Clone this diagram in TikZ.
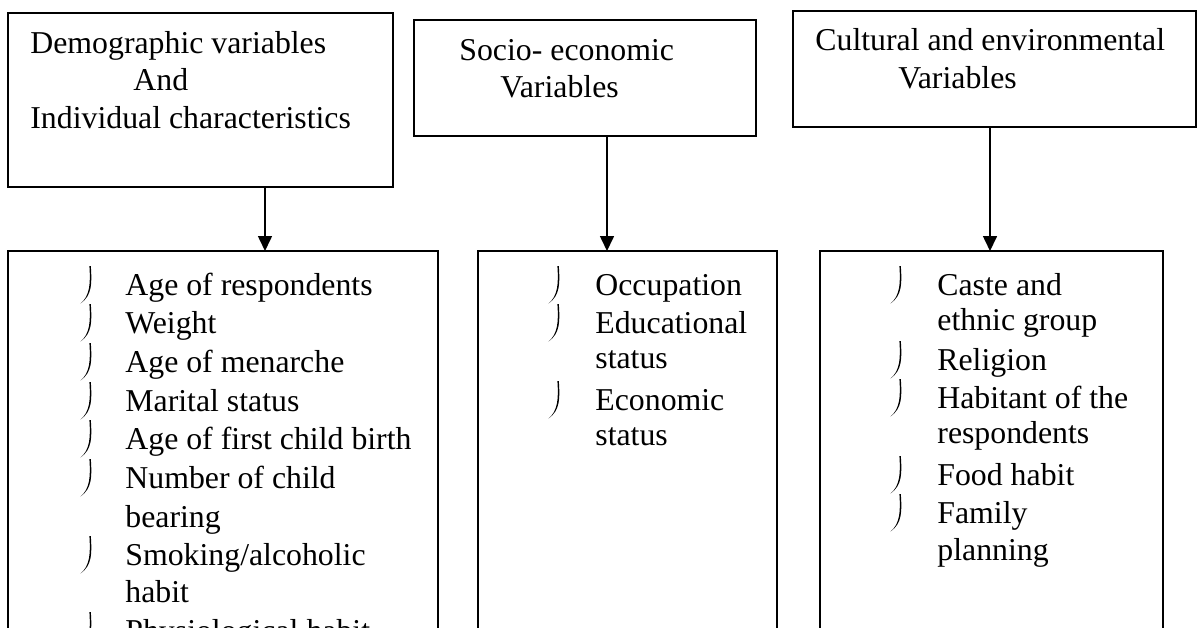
\documentclass[tikz,border=0pt]{standalone}
\usepackage{fontspec}
\setmainfont{Liberation Serif}
\usetikzlibrary{arrows.meta}

\tikzset{
  box/.style={draw, line width=0.9pt, rectangle, inner sep=0pt, outer sep=0pt, anchor=north west},
  txt/.style={anchor=base west, inner sep=0pt, font=\fontsize{15.9}{19}\selectfont},
  arr/.style={line width=0.8pt, -{Triangle[length=7.5pt,width=7pt]}},
  bul/.pic={\fill (0.8,-29) .. controls (1.9,-12) and (2.4,0) .. (-9.5,8.6)
     .. controls (0.2,0.4) and (0.5,-12) .. (-0.6,-29) -- cycle;}
}

\begin{document}
\begin{tikzpicture}[x=0.5pt,y=-0.5pt]
\useasboundingbox (0,0) rectangle (1198,627);
\clip (0,0) rectangle (1198,627);
% upper boxes
\node[box, minimum width=192.5pt, minimum height=87pt] (demo) at (8,13) {};
\node[box, minimum width=171pt, minimum height=58pt] (socio) at (414,20) {};
\node[box, minimum width=201.5pt, minimum height=58pt] (cult) at (793,11) {};
\node[txt] (d1) at (30,53) {Demographic variables};
\node[txt] (d2) at (133,90) {And};
\node[txt] (d3) at (30,128) {Individual characteristics};
\node[txt] (s1) at (459,60) {Socio- economic};
\node[txt] (s2) at (500,97) {Variables};
\node[txt] (c1) at (815,50) {Cultural and environmental};
\node[txt] (c2) at (898,88) {Variables};
% lower boxes
\node[box, minimum width=215pt, minimum height=250pt] (demolist) at (8,251) {};
\node[box, minimum width=149.5pt, minimum height=250pt] (sociolist) at (478,251) {};
\node[box, minimum width=171.5pt, minimum height=250pt] (cultlist) at (820,251) {};
% arrows
\coordinate (ta) at (265,0);
\coordinate (tb) at (607,0);
\coordinate (tc) at (990,0);
\draw[arr] (ta |- demo.south) -- (ta |- demolist.north);
\draw[arr] (tb |- socio.south) -- (tb |- sociolist.north);
\draw[arr] (tc |- cult.south) -- (tc |- cultlist.north);
% demographic list
\node[txt] (a1) at (125,295) {Age of respondents};
\node[txt] (a2) at (125,333) {Weight};
\node[txt] (a3) at (125,372) {Age of menarche};
\node[txt] (a4) at (125,411) {Marital status};
\node[txt] (a5) at (125,449) {Age of first child birth};
\node[txt] (a6) at (125,488) {Number of child};
\node[txt] (a6b) at (125,527) {bearing};
\node[txt] (a7) at (125,565) {Smoking/alcoholic};
\node[txt] (a7b) at (125,602) {habit};
\node[txt] (a8) at (125,641) {Physiological habit};
\pic at (90,295) {bul};
\pic at (90,333) {bul};
\pic at (90,372) {bul};
\pic at (90,411) {bul};
\pic at (90,449) {bul};
\pic at (90,488) {bul};
\pic at (90,565) {bul};
\pic at (90,641) {bul};
% socio-economic list
\node[txt] (b1) at (595,295) {Occupation};
\node[txt] (b2) at (595,333) {Educational};
\node[txt] (b2b) at (595,368) {status};
\node[txt] (b3) at (595,410) {Economic};
\node[txt] (b3b) at (595,445) {status};
\pic at (558,295) {bul};
\pic at (558,333) {bul};
\pic at (558,410) {bul};
% cultural list
\node[txt] (e1) at (937,295) {Caste and};
\node[txt] (e1b) at (937,330) {ethnic group};
\node[txt] (e2) at (937,370) {Religion};
\node[txt] (e3) at (937,408) {Habitant of the};
\node[txt] (e3b) at (937,443) {respondents};
\node[txt] (e4) at (937,485) {Food habit};
\node[txt] (e5) at (937,523) {Family};
\node[txt] (e5b) at (937,560) {planning};
\pic at (900,295) {bul};
\pic at (900,370) {bul};
\pic at (900,408) {bul};
\pic at (900,485) {bul};
\pic at (900,523) {bul};
\end{tikzpicture}
\end{document}
